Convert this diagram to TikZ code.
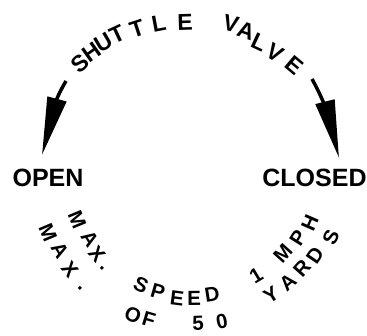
\documentclass[tikz,border=0pt]{standalone}
\usepackage{fontspec}
\setmainfont{Liberation Sans}
\newfontfamily\stencil{Liberation Sans}
\usetikzlibrary{arrows.meta}

\begin{document}
\begin{tikzpicture}[x=1pt,y=1pt,
  toplet/.style={font=\fontsize{23}{23}\stencil\bfseries,inner sep=0pt},
  botlet/.style={font=\fontsize{20.5}{20.5}\stencil\bfseries,inner sep=0pt},
  state/.style={font=\fontsize{25}{25}\selectfont\bfseries,inner sep=0pt},
  bigarrow/.style={line width=3.5pt,-{Triangle[length=58pt,width=19pt]}}]
  \useasboundingbox (0,0) rectangle (367,335);
  \coordinate (topc) at (190,145);
  \coordinate (botc) at (193,163);

  % upper arc
  \foreach \a/\r/\ltr in {130.9/168/S,125.4/169/H,120.4/171/U,115.1/172/T,108.1/170/T,100.6/169/L,91.7/168/E,
                          76.1/171/V,70.6/168.6/A,65.0/163.3/L,58.2/161.2/V,50.0/163.2/E}{
    \node[toplet,rotate=\a-90] at ([shift={(\a:\r)}]topc) {\ltr};
  }

  % lower arcs, inner line then outer line
  \foreach \a/\r/\ltr in {202.5/125.5/M,213.0/122.9/A,220.5/126.3/X,226.5/132.3/.,
                          245.3/124.4/S,253.7/125/P,262.8/127/E,270.5/126/E,278.9/123.5/D,
                          301.2/121.6/1,318.0/121/M,327.8/124/P,336.4/127.6/H,
                          202.8/157.3/M,210.4/154.2/A,218.5/157.3/X,225.7/162/.,
                          247.2/155/O,253.4/154.4/F,271.9/151/5,281.0/151.8/0,
                          302.4/145.6/Y,310.8/145.3/A,318.6/145.2/R,325.8/147.6/D,334.8/152.5/S}{
    \node[botlet,rotate=\a+90] at ([shift={(\a:\r)}]botc) {\ltr};
  }

  \node[state] (open) at (48,157) {OPEN};
  \node[state] (closed) at (314.5,157) {CLOSED};

  \coordinate (sv-l) at (66,254);
  \coordinate (sv-r) at (312,256);
  \draw[bigarrow] (sv-l) to[out=239,in=75] ([shift={(-6pt,14pt)}]open.north);
  \draw[bigarrow] (sv-r) to[out=299,in=104] ([shift={(24.5pt,11pt)}]closed.north);
\end{tikzpicture}
\end{document}
